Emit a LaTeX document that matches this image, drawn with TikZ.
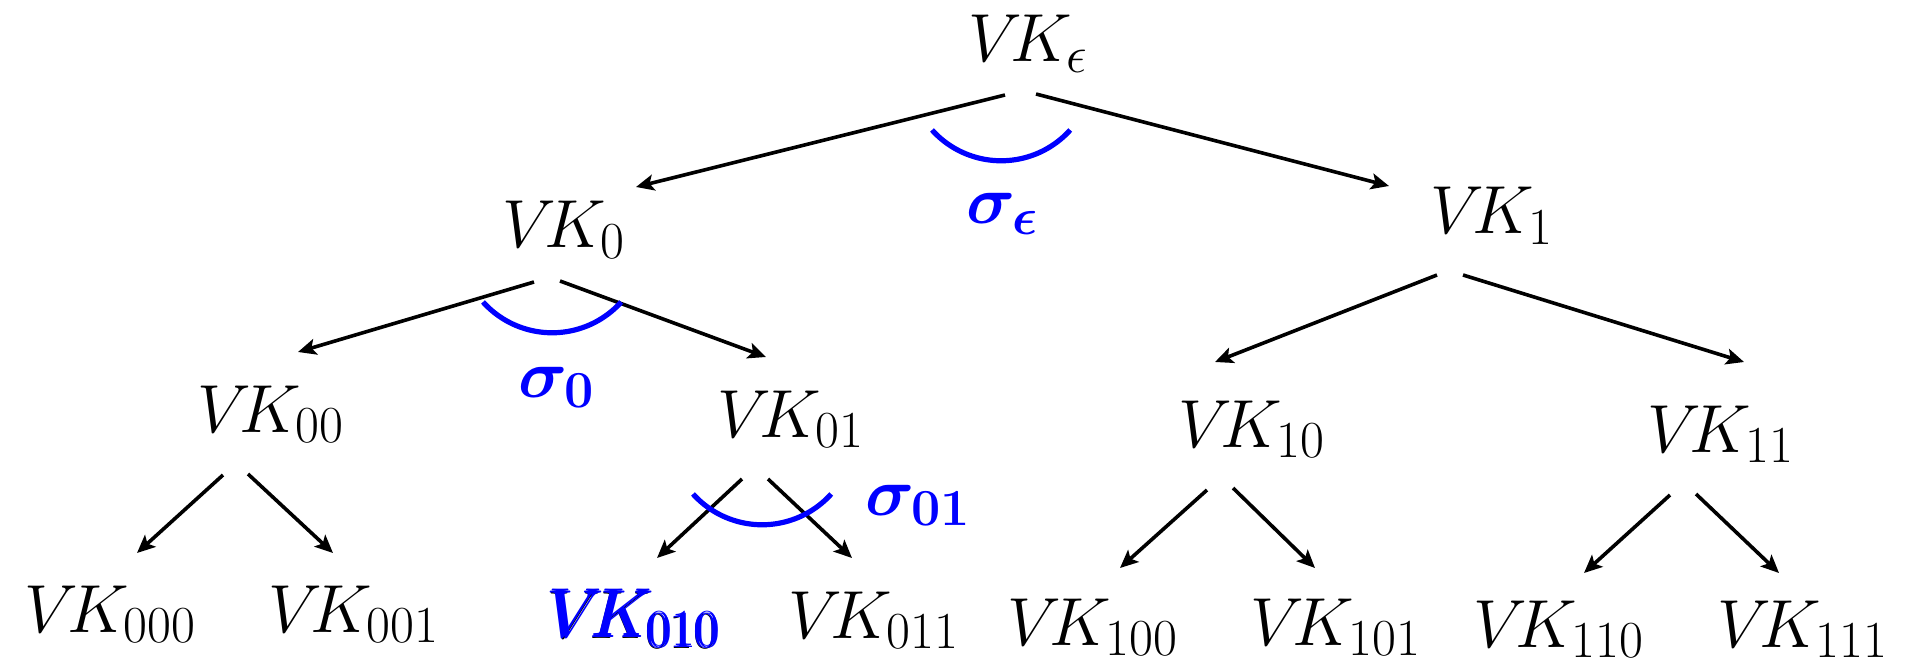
\RequirePackage{fix-cm}
\documentclass[tikz,border=0pt]{standalone}
\usepackage{amsmath,bm}
\usetikzlibrary{arrows.meta}
\DeclareMathSizes{34}{34}{26}{20}
\definecolor{sblue}{RGB}{0,0,255}
\newcommand{\VKx}{V\mkern-3mu K}
\tikzset{
  lbl/.style={anchor=base west, inner sep=0pt, outer sep=0pt, font=\fontsize{34}{40}\selectfont},
  slbl/.style={lbl, text=sblue},
  edge/.style={line width=1.8pt, -{Stealth[length=9pt,width=8pt,inset=2pt]}},
  sarc/.style={draw=sblue, line width=2.6pt}
}
\begin{document}
\begin{tikzpicture}[x=0.5pt,y=-0.5pt]
\useasboundingbox (0,0) rectangle (1905,668);
% tree nodes
\node[lbl] (r)   at (968,62)   {$\VKx_{\epsilon}$};
\node[lbl] (n0)  at (502,248)  {$\VKx_{0}$};
\node[lbl] (n1)  at (1430,234) {$\VKx_{1}$};
\node[lbl] (n00) at (197,432)  {$\VKx_{00}$};
\node[lbl] (n01) at (717,437)  {$\VKx_{01}$};
\node[lbl] (n10) at (1178,447) {$\VKx_{10}$};
\node[lbl] (n11) at (1647,452) {$\VKx_{11}$};
\node[lbl] (n000) at (25,632)   {$\VKx_{000}$};
\node[lbl] (n001) at (268,632)  {$\VKx_{001}$};
\node[lbl] (n010) at (547,638)  {$\VKx_{010}$};
\node[slbl] (n010b) at (550,637) {$\pmb{\VKx_{010}}$};
\node[lbl] (n011) at (788,638)  {$\VKx_{011}$};
\node[lbl] (n100) at (1007,645) {$\VKx_{100}$};
\node[lbl] (n101) at (1250,645) {$\VKx_{101}$};
\node[lbl] (n110) at (1473,647) {$\VKx_{110}$};
\node[lbl] (n111) at (1717,647) {$\VKx_{111}$};
% signature labels
\node[slbl] (se)  at (966,224) {$\bm{\sigma}_{\bm{\epsilon}}$};
\node[slbl] (s0)  at (518,397) {$\bm{\sigma}_{\mathbf{0}}$};
\node[slbl] (s01) at (865,515) {$\bm{\sigma}_{\mathbf{01}}$};
% edges
\draw[edge] ([shift={(37,33)}]r.base west)  -- ([shift={(134,-61)}]n0.base west);
\draw[edge] ([shift={(68,32)}]r.base west)  -- ([shift={(-41,-48)}]n1.base west);
\draw[edge] ([shift={(32,34)}]n0.base west) -- ([shift={(101,-80)}]n00.base west);
\draw[edge] ([shift={(58,33)}]n0.base west) -- ([shift={(49,-80)}]n01.base west);
\draw[edge] ([shift={(7,41)}]n1.base west)  -- ([shift={(37,-85)}]n10.base west);
\draw[edge] ([shift={(33,41)}]n1.base west) -- ([shift={(97,-90)}]n11.base west);
\draw[edge] ([shift={(26,43)}]n00.base west) -- ([shift={(112,-79)}]n000.base west);
\draw[edge] ([shift={(51,42)}]n00.base west) -- ([shift={(65,-79)}]n001.base west);
\draw[edge] ([shift={(25,42)}]n01.base west) -- ([shift={(110,-80)}]n010.base west);
\draw[edge] ([shift={(51,42)}]n01.base west) -- ([shift={(64,-80)}]n011.base west);
\draw[edge] ([shift={(29,43)}]n10.base west) -- ([shift={(113,-77)}]n100.base west);
\draw[edge] ([shift={(55,41)}]n10.base west) -- ([shift={(65,-77)}]n101.base west);
\draw[edge] ([shift={(23,43)}]n11.base west) -- ([shift={(111,-74)}]n110.base west);
\draw[edge] ([shift={(49,42)}]n11.base west) -- ([shift={(62,-74)}]n111.base west);
% signature arcs
\draw[sarc] (932,130) arc[start angle=222, end angle=318, radius=46.5pt];
\draw[sarc] (483,302) arc[start angle=222, end angle=318, radius=46.5pt];
\draw[sarc] (693,494) arc[start angle=222, end angle=318, radius=46.5pt];
\end{tikzpicture}
\end{document}
